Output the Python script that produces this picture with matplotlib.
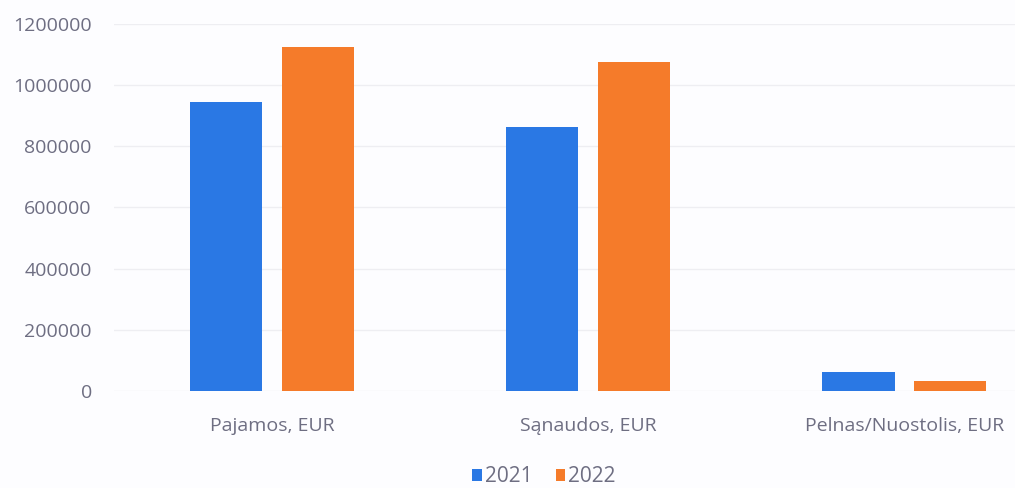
import numpy as np
import matplotlib
matplotlib.use("Agg")
import matplotlib.pyplot as plt

# ----------------------------
# Data
# ----------------------------
categories = ["Pajamos, EUR", "Sąnaudos, EUR", "Pelnas/Nuostolis, EUR"]
years = ["2021", "2022"]
values_2021 = [945000, 863000, 62000]
values_2022 = [1125000, 1076000, 33000]
y_ticks = [0, 200000, 400000, 600000, 800000, 1000000, 1200000]

blue = "#2A78E4"
orange = "#F57B2A"
text_colour = "#6E6E82"
grid_colour = "#EEEEF2"

plt.rcParams["font.family"] = ["Open Sans", "DejaVu Sans"]

W, H = 1015, 488
fig = plt.figure(figsize=(W / 100, H / 100), dpi=100)
fig.patch.set_facecolor("#FDFDFF")

# axes placed in pixel terms, right side is cut off like the scan
left, right, bottom, top = 114, 1015, 391, 24
ax = fig.add_axes([left / W, (H - bottom) / H, (right - left) / W, (bottom - top) / H])
ax.set_facecolor("none")

x = np.arange(len(categories))
bw = 0.228
off = 0.145
ax.bar(x - off, values_2021, width=bw, color=blue, label=years[0], zorder=3)
ax.bar(x + off, values_2022, width=bw, color=orange, label=years[1], zorder=3)

ax.set_xlim(-0.5, 2.35)
ax.set_ylim(0, 1200000)
ax.set_yticks(y_ticks)
ax.set_yticklabels([str(v) for v in y_ticks])
ax.set_xticks(x)
ax.set_xticklabels(categories)

ax.grid(axis="y", color=grid_colour, linewidth=1, zorder=0)
for s in ax.spines.values():
    s.set_visible(False)
ax.tick_params(axis="both", length=0, colors=text_colour, labelsize=14)
ax.tick_params(axis="y", pad=16)
ax.tick_params(axis="x", pad=19)

ax.legend(
    loc="center",
    bbox_to_anchor=(544 / W, (H - 477) / H),
    bbox_transform=fig.transFigure,
    ncol=2,
    frameon=False,
    fontsize=15,
    handlelength=0.45,
    handleheight=0.45,
    handletextpad=0.15,
    columnspacing=1.1,
    labelcolor=text_colour,
    borderaxespad=0,
    borderpad=0,
)

fig.savefig("out.png", dpi=100, facecolor=fig.get_facecolor())
